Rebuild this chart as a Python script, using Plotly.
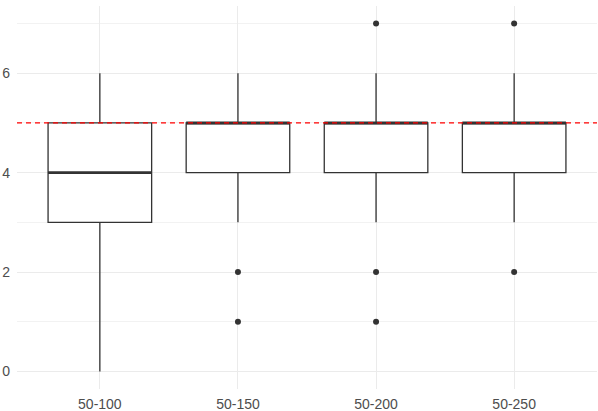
import plotly.graph_objects as go

categories = ["50-100", "50-150", "50-200", "50-250"]
q1 = [3, 4, 4, 4]
median = [4, 5, 5, 5]
q3 = [5, 5, 5, 5]
lower = [0, 3, 3, 3]
upper = [6, 6, 6, 6]
outlier_cat = ["50-150", "50-150", "50-200", "50-200", "50-200", "50-250", "50-250"]
outlier_val = [2, 1, 7, 2, 1, 7, 2]
ref_line = 5

pos = {c: i + 1 for i, c in enumerate(categories)}
xs = [pos[c] for c in categories]
half = 0.375

fig = go.Figure()
fig.add_trace(go.Box(
    x=xs, q1=q1, median=median, q3=q3, lowerfence=lower, upperfence=upper,
    width=2 * half, whiskerwidth=0, boxpoints=False,
    fillcolor="white", line=dict(color="#333333", width=1.3),
    showlegend=False, hoverinfo="skip",
))
# thick median lines (ggplot fatten)
mx, my = [], []
for x, m in zip(xs, median):
    mx += [x - half, x + half, None]
    my += [m, m, None]
fig.add_trace(go.Scatter(x=mx, y=my, mode="lines",
                         line=dict(color="#333333", width=2.6),
                         showlegend=False, hoverinfo="skip"))
fig.add_trace(go.Scatter(x=[pos[c] for c in outlier_cat], y=outlier_val, mode="markers",
                         marker=dict(color="#333333", size=6),
                         showlegend=False, hoverinfo="skip"))
fig.add_trace(go.Scatter(x=[0.4, 4.6], y=[ref_line, ref_line], mode="lines",
                         line=dict(color="#ff0000", width=1.2, dash="5px,4px"),
                         showlegend=False, hoverinfo="skip"))

fig.update_layout(
    width=598, height=411,
    margin=dict(l=17, r=1, t=6, b=22, autoexpand=False),
    paper_bgcolor="white", plot_bgcolor="white",
    font=dict(family="Liberation Sans, Arial, sans-serif", size=14, color="#4d4d4d"),
)
fig.update_xaxes(range=[0.4, 4.6], tickvals=xs, ticktext=categories, automargin=False,
                 showgrid=True, gridcolor="#ebebeb", gridwidth=1,
                 zeroline=False, showline=False, ticks="", ticklabelstandoff=5)
fig.update_yaxes(range=[-0.35, 7.35], tickvals=[0, 2, 4, 6], automargin=False,
                 showgrid=True, gridcolor="#ebebeb", gridwidth=1,
                 minor=dict(tickvals=[1, 3, 5, 7], showgrid=True, gridcolor="#f2f2f2", gridwidth=1),
                 zeroline=False, showline=False, ticks="", ticklabelstandoff=6)

fig.write_html("out.html", config={"displayModeBar": False},
               post_script="document.body.style.margin='0';document.body.style.overflow='hidden';")
